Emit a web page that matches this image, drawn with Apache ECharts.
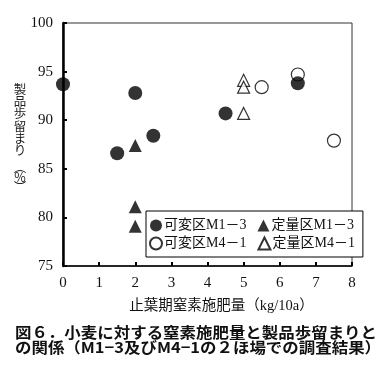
<!DOCTYPE html>
<html>
<head>
<meta charset="utf-8">
<script src="https://cdn.jsdelivr.net/npm/echarts@6/dist/echarts.min.js"></script>
<style>
html, body { margin: 0; padding: 0; background: #fff; }
#chart { width: 383px; height: 378px; }
</style>
</head>
<body>
<div id="chart"></div>
<script>
// 止葉期窒素施肥量 (kg/10a) と 製品歩留まり (%)
var kahenM13X = [0, 1.5, 2, 2.5, 4.5, 6.5];
var kahenM13Y = [93.7, 86.6, 92.8, 88.4, 90.7, 93.8];
var teiryoM13X = [2, 2, 2];
var teiryoM13Y = [87.4, 81.1, 79.1];
var kahenM41X = [5.5, 6.5, 7.5];
var kahenM41Y = [93.4, 94.7, 87.9];
var teiryoM41X = [5, 5, 5];
var teiryoM41Y = [94.1, 93.4, 90.7];
var seriesNames = ['可変区M1－3', '定量区M1－3', '可変区M4－1', '定量区M4－1'];
var yTitleChars = ['製', '品', '歩', '留', 'ま', 'り', '︵', '%', '︶'];

var serif = '"Liberation Serif", "Noto Sans CJK JP", serif';
var cjk = '"Noto Sans CJK JP", sans-serif';

function pairs (xs, ys) {
    return xs.map(function (x, i) { return [x, ys[i]]; });
}

// 縦書きの軸タイトル (1文字ずつ)
var graphics = [];
var ty = 89;
yTitleChars.forEach(function (ch, i) {
    if (i === 6) ty += 4;
    graphics.push({
        type: 'text',
        x: 20,
        y: ty,
        style: {
            text: ch,
            font: '12.5px ' + cjk,
            fill: '#222',
            align: 'center',
            verticalAlign: 'middle'
        }
    });
    ty += (i >= 6) ? 10 : 12.3;
});
// 図のキャプション (横に少し広げる)
graphics.push({
    type: 'text',
    x: 15,
    y: 332,
    scaleX: 1.097,
    style: {
        text: '図６．小麦に対する窒素施肥量と製品歩留まりと',
        font: 'bold 15px ' + cjk,
        fill: '#111',
        verticalAlign: 'middle'
    }
});
graphics.push({
    type: 'text',
    x: 15,
    y: 347,
    scaleX: 1.097,
    style: {
        text: 'の関係（M1−3及びM4−1の２ほ場での調査結果）',
        font: 'bold 15px ' + cjk,
        fill: '#111',
        verticalAlign: 'middle'
    }
});

var chart = echarts.init(document.getElementById('chart'));
var option = {
    animation: false,
    backgroundColor: '#fff',
    grid: {
        left: 63,
        right: 31,
        top: 23,
        bottom: 112,
        show: true,
        borderColor: '#333',
        borderWidth: 1
    },
    legend: {
        data: seriesNames,
        left: 146,
        top: 211,
        width: 230,
        orient: 'horizontal',
        itemWidth: 12,
        itemHeight: 12,
        itemGap: 3,
        padding: [7, 0, 6, 3],
        backgroundColor: '#fff',
        borderColor: '#000',
        borderWidth: 1,
        textStyle: {
            fontFamily: serif,
            fontSize: 14,
            lineHeight: 15,
            color: '#111',
            padding: [0, 8, 0, -3]
        }
    },
    xAxis: {
        type: 'value',
        min: 0,
        max: 8,
        interval: 1,
        name: '止葉期窒素施肥量（kg/10a）',
        nameLocation: 'middle',
        nameGap: 33,
        nameTextStyle: { fontFamily: serif, fontSize: 14.5, color: '#111', padding: [0, 0, 0, 28] },
        axisLine: { show: true, lineStyle: { color: '#000', width: 1.5 } },
        axisTick: { show: true, inside: true, length: 4, lineStyle: { color: '#000', width: 2 } },
        axisLabel: { fontFamily: serif, fontSize: 15, color: '#111', margin: 10 },
        splitLine: { show: false }
    },
    yAxis: {
        type: 'value',
        min: 75,
        max: 100,
        interval: 5,
        axisLine: { show: true, lineStyle: { color: '#000', width: 2.5 } },
        axisTick: { show: true, inside: true, length: 4, lineStyle: { color: '#000', width: 2 } },
        axisLabel: { fontFamily: serif, fontSize: 15, color: '#111', margin: 10 },
        splitLine: { show: false }
    },
    graphic: graphics,
    series: [
        {
            name: seriesNames[0],
            type: 'scatter',
            symbol: 'circle',
            symbolSize: 14,
            z: 5,
            itemStyle: { color: '#000' },
            data: pairs(kahenM13X, kahenM13Y)
        },
        {
            name: seriesNames[1],
            type: 'scatter',
            symbol: 'triangle',
            symbolSize: 13,
            z: 4,
            itemStyle: { color: '#000' },
            data: pairs(teiryoM13X, teiryoM13Y)
        },
        {
            name: seriesNames[2],
            type: 'scatter',
            symbol: 'circle',
            symbolSize: 13,
            z: 3,
            itemStyle: { color: '#fff', borderColor: '#000', borderWidth: 1.2 },
            data: pairs(kahenM41X, kahenM41Y)
        },
        {
            name: seriesNames[3],
            type: 'scatter',
            symbol: 'triangle',
            symbolSize: 12,
            z: 3,
            itemStyle: { color: '#fff', borderColor: '#000', borderWidth: 1.2 },
            data: pairs(teiryoM41X, teiryoM41Y)
        }
    ]
};
chart.setOption(option);
</script>
</body>
</html>
